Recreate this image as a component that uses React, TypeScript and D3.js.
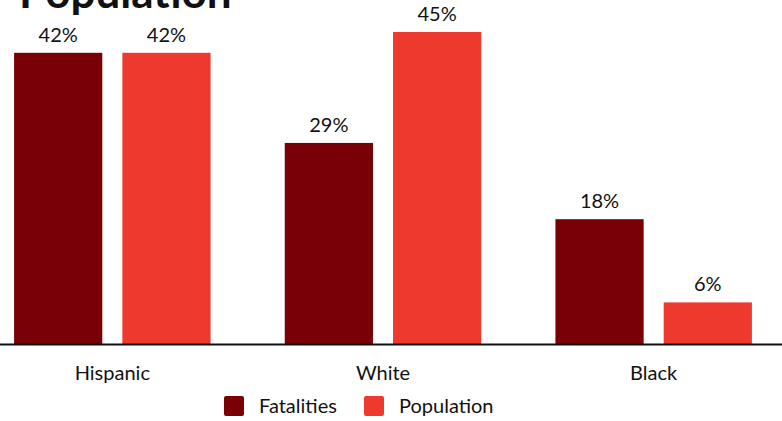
import { useEffect, useRef } from "react";
import * as d3 from "d3";

const groups = ["Hispanic", "White", "Black"];
const seriesNames = ["Fatalities", "Population"];
const fatalities = [42, 29, 18];
const population = [42, 45, 6];
const colors = ["#790006", "#ee3a2e"];

const W = 782;
const H = 421;

const App = () => {
  const ref = useRef<SVGSVGElement>(null);

  useEffect(() => {
    const svg = d3.select(ref.current);
    svg.selectAll("*").remove();

    const font = "Lato, 'Noto Sans', sans-serif";

    const x0 = d3
      .scaleBand()
      .domain(groups)
      .range([-23, 789])
      .paddingInner(74 / 270)
      .paddingOuter(37 / 270);

    const x1 = d3
      .scaleBand()
      .domain(seriesNames)
      .range([0, x0.bandwidth()])
      .paddingInner(20 / 108);

    const y = d3.scaleLinear().domain([0, 45]).range([344, 32]);

    // title (only its last line shows in the frame)
    svg
      .append("text")
      .attr("x", 19)
      .attr("y", 8)
      .attr("font-family", font)
      .attr("font-weight", 700)
      .attr("font-size", 44)
      .attr("fill", "#111")
      .text("Population");

    const rows = groups.map((g, i) => ({
      group: g,
      values: [fatalities[i], population[i]],
    }));

    const g = svg
      .selectAll("g.grp")
      .data(rows)
      .join("g")
      .attr("class", "grp")
      .attr("transform", (d) => `translate(${x0(d.group)},0)`);

    g.selectAll("rect")
      .data((d) => d.values.map((v, j) => ({ key: seriesNames[j], v, j })))
      .join("rect")
      .attr("x", (d) => x1(d.key)!)
      .attr("y", (d) => y(d.v))
      .attr("width", x1.bandwidth())
      .attr("height", (d) => y(0) - y(d.v))
      .attr("fill", (d) => colors[d.j]);

    g.selectAll("text.val")
      .data((d) => d.values.map((v, j) => ({ key: seriesNames[j], v })))
      .join("text")
      .attr("class", "val")
      .attr("x", (d) => x1(d.key)! + x1.bandwidth() / 2)
      .attr("y", (d) => y(d.v) - 11)
      .attr("text-anchor", "middle")
      .attr("font-family", font)
      .attr("font-size", 20)
      .attr("fill", "#111")
      .text((d) => `${d.v}%`);

    // baseline
    svg
      .append("line")
      .attr("x1", 0)
      .attr("x2", W)
      .attr("y1", y(0) + 0.5)
      .attr("y2", y(0) + 0.5)
      .attr("stroke", "#111")
      .attr("stroke-width", 2);

    svg
      .selectAll("text.cat")
      .data(groups)
      .join("text")
      .attr("class", "cat")
      .attr("x", (d) => x0(d)! + x0.bandwidth() / 2)
      .attr("y", 380)
      .attr("text-anchor", "middle")
      .attr("font-family", font)
      .attr("font-size", 20)
      .attr("fill", "#111")
      .text((d) => d);

    // legend
    const legendX = [224, 364];
    const lg = svg
      .selectAll("g.leg")
      .data(seriesNames)
      .join("g")
      .attr("class", "leg")
      .attr("transform", (_d, i) => `translate(${legendX[i]},396)`);
    lg.append("rect")
      .attr("width", 20)
      .attr("height", 20)
      .attr("rx", 2)
      .attr("fill", (_d, i) => colors[i]);
    lg.append("text")
      .attr("x", 35)
      .attr("y", 17)
      .attr("font-family", font)
      .attr("font-size", 20)
      .attr("fill", "#111")
      .text((d) => d);
  }, []);

  return (
    <svg
      ref={ref}
      width={W}
      height={H}
      style={{ position: "absolute", left: 0, top: 0 }}
    />
  );
};

export default App;
